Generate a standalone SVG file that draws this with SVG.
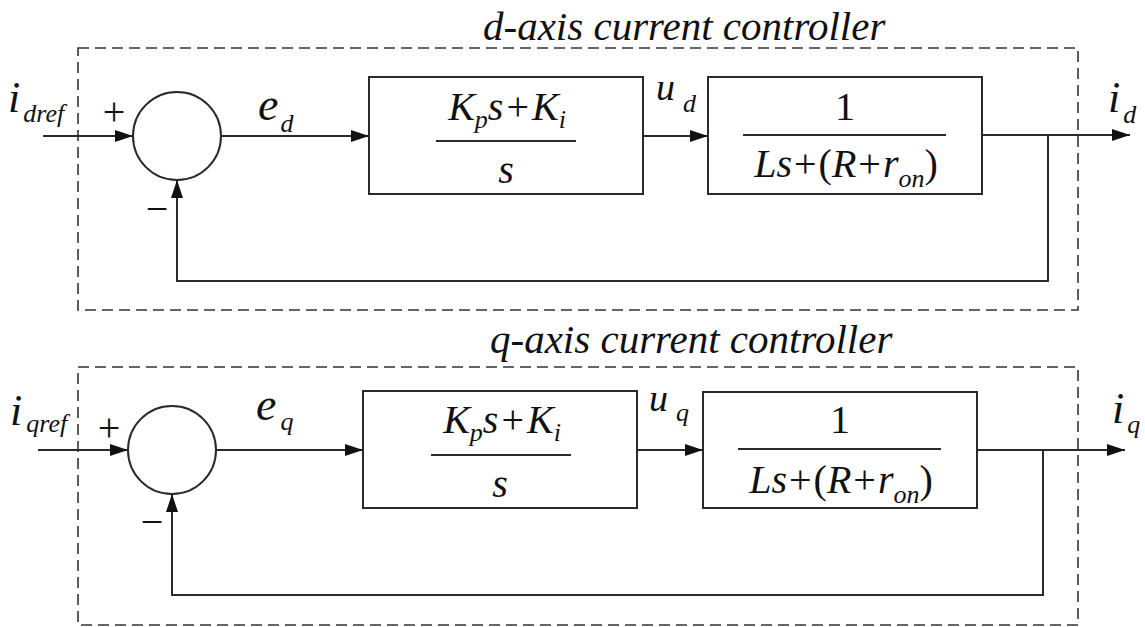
<svg xmlns="http://www.w3.org/2000/svg" width="1145" height="627" viewBox="0 0 1145 627">
<style>
.ln{fill:none;stroke:#2a2a2a;stroke-width:2}
.blk{fill:#fff;stroke:#2a2a2a;stroke-width:2}
.dash{fill:none;stroke:#333;stroke-width:1.6;stroke-dasharray:11 6}
.it{font-style:italic}
</style>
<defs>
<marker id="ah" viewBox="0 0 18 12" refX="18" refY="6" markerWidth="18" markerHeight="12" markerUnits="userSpaceOnUse" orient="auto">
<path d="M0,0 L18,6 L0,12 z" fill="#111"/>
</marker>
</defs>
<rect width="1145" height="627" fill="#fff"/>
<g font-family="Liberation Serif" fill="#111">
<g id="d-frame">
<rect class="dash" x="78" y="48" width="1000" height="262"/>
<text class="it" x="483" y="40" font-size="41">d-axis current controller</text>
</g>
<g id="q-frame">
<rect class="dash" x="78" y="367" width="1000" height="258"/>
<text class="it" x="490" y="353" font-size="41">q-axis current controller</text>
</g>

<g id="connectors">
<path class="ln" d="M43,136 H133" marker-end="url(#ah)"/>
<path class="ln" d="M221,136 H369" marker-end="url(#ah)"/>
<path class="ln" d="M643,136 H708" marker-end="url(#ah)"/>
<path class="ln" d="M982,135 H1130" marker-end="url(#ah)"/>
<path class="ln" d="M1048,135 V281 H177 V180" marker-end="url(#ah)"/>
<path class="ln" d="M38,450 H128" marker-end="url(#ah)"/>
<path class="ln" d="M216,450 H363" marker-end="url(#ah)"/>
<path class="ln" d="M637,450 H703" marker-end="url(#ah)"/>
<path class="ln" d="M977,450 H1125" marker-end="url(#ah)"/>
<path class="ln" d="M1043,450 V595 H172 V494" marker-end="url(#ah)"/>
</g>

<g id="d-sum">
<circle class="blk" cx="177" cy="136" r="44"/>
<text x="114" y="125" font-size="40" text-anchor="middle">+</text>
<text x="157" y="222" font-size="40" text-anchor="middle">−</text>
</g>
<g id="d-pi">
<rect class="blk" x="369" y="77" width="274" height="117"/>
<line class="ln" x1="436" y1="141" x2="576" y2="141"/>
<text class="it" x="507" y="120" font-size="40" text-anchor="middle">K<tspan dy="8" font-size="26">p</tspan><tspan dy="-8">s</tspan><tspan font-style="normal" dx="3">+</tspan><tspan dx="3">K</tspan><tspan dy="8" font-size="26">i</tspan></text>
<text class="it" x="506" y="183" font-size="40" text-anchor="middle">s</text>
</g>
<g id="d-plant">
<rect class="blk" x="708" y="77" width="274" height="117"/>
<line class="ln" x1="743" y1="135" x2="946" y2="135"/>
<text x="845" y="120" font-size="40" text-anchor="middle">1</text>
<text class="it" x="846" y="177" font-size="40" text-anchor="middle">L<tspan>s</tspan><tspan font-style="normal" dx="2">+</tspan><tspan font-style="normal" dx="2">(</tspan>R<tspan font-style="normal" dx="2">+</tspan><tspan dx="2">r</tspan><tspan dy="10" font-size="26">on</tspan><tspan dy="-10" font-style="normal">)</tspan></text>
</g>
<g id="d-labels">
<text class="it" x="8" y="112" font-size="44">i<tspan dx="3" dy="10" font-size="26">dref</tspan></text>
<text class="it" x="258" y="120" font-size="46">e<tspan dx="2" dy="12" font-size="26">d</tspan></text>
<text class="it" x="656" y="100" font-size="38">u<tspan dx="8" dy="12" font-size="26">d</tspan></text>
<text class="it" x="1108" y="112" font-size="44">i<tspan dx="3" dy="11" font-size="26">d</tspan></text>
</g>

<g id="q-sum">
<circle class="blk" cx="172" cy="450" r="44"/>
<text x="109" y="441" font-size="40" text-anchor="middle">+</text>
<text x="152" y="535" font-size="40" text-anchor="middle">−</text>
</g>
<g id="q-pi">
<rect class="blk" x="363" y="391" width="274" height="117"/>
<line class="ln" x1="431" y1="455" x2="571" y2="455"/>
<text class="it" x="502" y="433" font-size="40" text-anchor="middle">K<tspan dy="8" font-size="26">p</tspan><tspan dy="-8">s</tspan><tspan font-style="normal" dx="3">+</tspan><tspan dx="3">K</tspan><tspan dy="8" font-size="26">i</tspan></text>
<text class="it" x="500" y="497" font-size="40" text-anchor="middle">s</text>
</g>
<g id="q-plant">
<rect class="blk" x="703" y="392" width="274" height="116"/>
<line class="ln" x1="738" y1="449" x2="941" y2="449"/>
<text x="840" y="433" font-size="40" text-anchor="middle">1</text>
<text class="it" x="841" y="493" font-size="40" text-anchor="middle">L<tspan>s</tspan><tspan font-style="normal" dx="2">+</tspan><tspan font-style="normal" dx="2">(</tspan>R<tspan font-style="normal" dx="2">+</tspan><tspan dx="2">r</tspan><tspan dy="10" font-size="26">on</tspan><tspan dy="-10" font-style="normal">)</tspan></text>
</g>
<g id="q-labels">
<text class="it" x="10" y="425" font-size="44">i<tspan dx="4" dy="7" font-size="26">qref</tspan></text>
<text class="it" x="256" y="420" font-size="46">e<tspan dx="4" dy="10" font-size="26">q</tspan></text>
<text class="it" x="649" y="411" font-size="38">u<tspan dx="8" dy="10" font-size="26">q</tspan></text>
<text class="it" x="1112" y="423" font-size="44">i<tspan dx="3" dy="10" font-size="26">q</tspan></text>
</g>
</g>
</svg>
